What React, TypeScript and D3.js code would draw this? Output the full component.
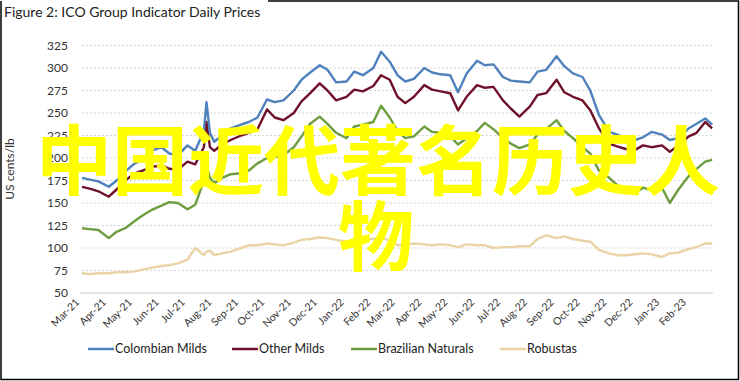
import React from "react";
import * as d3 from "d3";

const dates = [
  "2021-03-01","2021-03-10","2021-03-20","2021-04-01","2021-04-10","2021-04-20","2021-05-01","2021-05-10","2021-05-20",
  "2021-06-01","2021-06-10","2021-06-20","2021-07-01","2021-07-10","2021-07-20","2021-07-23","2021-07-27",
  "2021-08-01","2021-08-10","2021-08-20","2021-09-01","2021-09-10","2021-09-20","2021-10-01","2021-10-10","2021-10-20",
  "2021-11-01","2021-11-10","2021-11-20","2021-12-01","2021-12-10","2021-12-20","2022-01-01","2022-01-10","2022-01-20",
  "2022-02-01","2022-02-10","2022-02-20","2022-03-01","2022-03-10","2022-03-20","2022-04-01","2022-04-10","2022-04-20",
  "2022-05-01","2022-05-10","2022-05-20","2022-06-01","2022-06-10","2022-06-20","2022-07-01","2022-07-10","2022-07-20",
  "2022-08-01","2022-08-10","2022-08-20","2022-09-01","2022-09-10","2022-09-20","2022-10-01","2022-10-10","2022-10-20",
  "2022-11-01","2022-11-10","2022-11-20","2022-12-01","2022-12-10","2022-12-20","2023-01-01","2023-01-10","2023-01-20",
  "2023-02-01","2023-02-10","2023-02-20","2023-02-28"
];

const colombianMilds = [
  178,176,174,168,175,185,194,198,208,
  212,205,203,214,208,230,262,228,
  218,225,233,237,240,245,265,262,264,
  275,287,295,303,298,284,285,296,292,
  300,318,307,292,285,288,300,295,293,
  292,273,294,308,303,304,290,286,285,
  284,296,298,313,302,294,290,275,248,
  229,226,222,220,223,229,226,220,222,
  233,238,244,237
];

const otherMilds = [
  168,166,163,157,165,175,183,186,190,
  192,188,187,196,193,212,240,212,
  208,215,220,225,228,232,254,245,242,
  250,263,272,283,275,264,268,276,274,
  280,292,287,268,261,268,281,276,274,
  272,253,268,281,278,279,264,255,246,
  257,270,272,287,273,268,264,253,233,
  216,213,210,209,214,212,214,207,214,
  224,228,240,233
];

const brazilianNaturals = [
  122,121,120,111,118,122,130,136,142,
  147,151,150,143,148,175,192,178,
  172,178,182,183,186,194,200,201,203,
  212,224,238,246,238,228,222,235,237,
  240,258,245,230,222,224,235,229,228,
  224,215,222,230,239,232,222,216,211,
  215,226,232,242,230,222,212,205,186,
  178,170,164,161,167,164,167,150,165,
  180,188,196,198
];

const robustas = [
  72,71,72,72,73,73,74,76,78,
  80,81,83,87,100,92,96,97,
  92,94,96,100,103,103,105,104,103,
  106,109,110,112,111,109,107,108,110,
  110,112,108,103,104,105,104,103,104,
  103,101,104,103,103,100,101,101,102,
  102,110,114,111,113,110,108,107,98,
  94,92,92,93,94,93,90,94,95,
  99,101,105,105
];

const yTicks = [50, 75, 100, 125, 150, 175, 200, 225, 250, 275, 300, 325];
const monthLabels = [
  "Mar-21","Apr-21","May-21","Jun-21","Jul-21","Aug-21","Sep-21","Oct-21","Nov-21","Dec-21","Jan-22","Feb-22",
  "Mar-22","Apr-22","May-22","Jun-22","Jul-22","Aug-22","Sep-22","Oct-22","Nov-22","Dec-22","Jan-23","Feb-23"
];

const seriesNames = ["Colombian Milds", "Other Milds", "Brazilian Naturals", "Robustas"];
const seriesColors = ["#4f81bd", "#70112a", "#6e9d3f", "#ead3a4"];
const seriesValues = [colombianMilds, otherMilds, brazilianNaturals, robustas];

const W = 740, H = 381;
const FONT = "Lato, 'Open Sans', sans-serif";

export default function App() {
  const parse = d3.timeParse("%Y-%m-%d");
  const dts = dates.map((s) => parse(s) as Date);
  const x = d3.scaleTime().domain([new Date(2021, 2, 1), new Date(2023, 2, 1)]).range([82, 713]);
  const y = d3.scaleLinear().domain([50, 325]).range([293, 45.5]);
  const line = d3.line<number>().x((_, i) => x(dts[i])).y((v) => y(v)).curve(d3.curveLinear);
  const months = d3.timeMonth.range(new Date(2021, 2, 1), new Date(2023, 2, 1));
  const legendX = [88, 232, 351, 500];

  return (
    <svg width={W} height={H} style={{ position: "absolute", left: 0, top: 0, background: "#fff" }} fontFamily={FONT}>
      <rect x={0} y={0} width={W} height={H} fill="#fff" />
      <path d="M1,1 V379.5 H738.5 V1 H268" fill="none" stroke="#000" strokeWidth={1.5} />
      <text x={4} y={17} fontSize={14} fill="#222">Figure 2: ICO Group Indicator Daily Prices</text>

      {yTicks.map((t) => (
        <g key={t}>
          {t === 50 ? (
            <line x1={80} x2={713} y1={y(t)} y2={y(t)} stroke="#d9d9d9" strokeWidth={1.5} />
          ) : (
            <line x1={82} x2={713} y1={y(t)} y2={y(t)} stroke="#c8c8c8" strokeWidth={1.2} strokeDasharray="1.5 2.5" />
          )}
          <text x={68} y={y(t)} dy="0.35em" textAnchor="end" fontSize={12} fill="#333">{t}</text>
        </g>
      ))}

      <text transform={`translate(14,${(45 + 293) / 2}) rotate(-90)`} textAnchor="middle" fontSize={12} fill="#333">US cents/lb</text>

      {months.map((m, i) => (
        <text key={i} transform={`translate(${x(m) - 2},${303}) rotate(-45)`} textAnchor="end" fontSize={10.5} fill="#333">{monthLabels[i]}</text>
      ))}

      {seriesValues.slice().reverse().map((vals, j) => {
        const k = seriesValues.length - 1 - j;
        return (
          <path key={k} d={line(vals) || ""} fill="none" stroke={seriesColors[k]} strokeWidth={2.4} strokeLinejoin="round" />
        );
      })}

      {seriesNames.map((n, i) => (
        <g key={n}>
          <line x1={legendX[i]} x2={legendX[i] + 26} y1={349} y2={349} stroke={seriesColors[i]} strokeWidth={2.5} />
          <text x={legendX[i] + 27} y={349} dy="0.35em" fontSize={12.5} fill="#222">{n}</text>
        </g>
      ))}

      <g fontFamily="'Noto Sans CJK SC', sans-serif" fontWeight={700} fill="#ffff00" fontSize={76} textAnchor="middle">
        <text x={378} y={189}>中国近代著名历史人</text>
        <text x={376} y={265}>物</text>
      </g>
    </svg>
  );
}
